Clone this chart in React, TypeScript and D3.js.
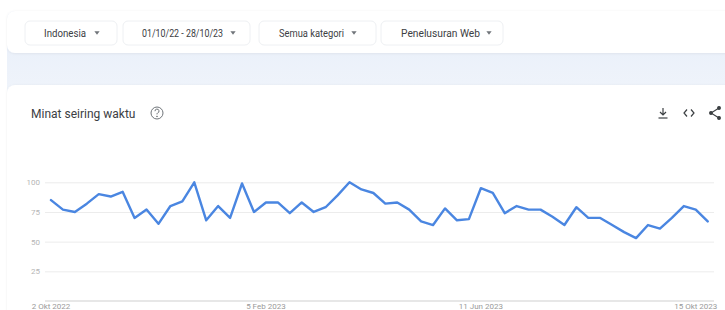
import React, { useEffect, useRef } from "react";
import * as d3 from "d3";

// weekly interest values, from 2 Okt 2022
const startDate = new Date(2022, 9, 2);
const values = [
  85, 77, 75, 82, 90, 88, 92, 70, 77, 65, 80, 84, 100, 68, 80, 70, 99, 75, 83,
  83, 74, 83, 75, 79, 89, 100, 94, 91, 82, 83, 77, 67, 64, 78, 68, 69, 95, 91,
  74, 80, 77, 77, 71, 64, 79, 70, 70, 64, 58, 53, 64, 61, 70, 80, 77, 67,
];
const yTicks = [25, 50, 75, 100];
const xTickDates = [
  new Date(2022, 9, 2),
  new Date(2023, 1, 5),
  new Date(2023, 5, 11),
  new Date(2023, 9, 15),
];
const xTickLabels = ["2 Okt 2022", "5 Feb 2023", "11 Jun 2023", "15 Okt 2023"];
const filters = ["Indonesia", "01/10/22 - 28/10/23", "Semua kategori", "Penelusuran Web"];
const title = "Minat seiring waktu";

const W = 725;
const H = 310;
const FONT = "Roboto, 'Open Sans', sans-serif";

const Axis = ({ scale, transform }) => {
  const node = useRef(null);
  useEffect(() => {
    const g = d3.select(node.current);
    g.call(
      d3
        .axisLeft(scale)
        .tickValues(yTicks)
        .tickSize(-669)
        .tickPadding(5)
    );
    g.select(".domain").remove();
    g.selectAll(".tick line").attr("stroke", "#ececec");
    g.selectAll(".tick text")
      .attr("fill", "#b5b5b5")
      .attr("font-size", 8)
      .attr("font-family", FONT);
  }, [scale]);
  return <g ref={node} transform={transform} />;
};

export default function App() {
  const dates = values.map((_, i) => d3.timeWeek.offset(startDate, i));
  const x = d3
    .scaleTime()
    .domain([dates[0], dates[dates.length - 1]])
    .range([51, 707.7]);
  const y = d3.scaleLinear().domain([0, 100]).range([301, 182.3]);

  const line = d3
    .line<number>()
    .x((_, i) => x(dates[i]))
    .y((d) => y(d));

  // filter chip geometry
  const chips = [
    { x: 25, w: 92, tx: 44, tw: 42, tri: 97 },
    { x: 123, w: 127, tx: 142, tw: 81, tri: 233 },
    { x: 259, w: 117, tx: 279, tw: 65, tri: 354 },
    { x: 381, w: 122, tx: 401, tw: 79, tri: 489 },
  ];

  return (
    <div style={{ position: "fixed", left: 0, top: 0 }}>
      <svg width={W} height={H} style={{ display: "block", fontFamily: FONT }}>
        <defs>
          <linearGradient id="bg" x1="0" y1="0" x2="0" y2="1">
            <stop offset="0" stopColor="#e7eef9" />
            <stop offset="1" stopColor="#f1f5fb" />
          </linearGradient>
          <filter id="sh" x="-5%" y="-20%" width="110%" height="140%">
            <feDropShadow dx="0" dy="0.5" stdDeviation="0.8" floodColor="#000" floodOpacity="0.07" />
          </filter>
        </defs>
        <rect width={W} height={H} fill="#ffffff" />
        <rect x={7} y={11} width={740} height={100} rx={8} fill="url(#bg)" />
        <rect x={7} y={11} width={740} height={42} rx={8} fill="#ffffff" filter="url(#sh)" />
        {filters.map((f, i) => (
          <g key={f}>
            <rect
              x={chips[i].x}
              y={21}
              width={chips[i].w}
              height={24}
              rx={5}
              fill="#ffffff"
              stroke="#eef0f3"
            />
            <text
              x={chips[i].tx}
              y={37}
              fontSize={10}
              fill="#3c4043"
              textLength={chips[i].tw}
              lengthAdjust="spacingAndGlyphs"
            >
              {f}
            </text>
            <path
              transform={`translate(${chips[i].tri},33)`}
              d="M-2.6,-1.8 L2.6,-1.8 L0,1.8 Z"
              fill="#70757a"
            />
          </g>
        ))}

        <rect x={7} y={85} width={740} height={260} rx={8} fill="#ffffff" filter="url(#sh)" />
        <text x={31} y={117.5} fontSize={12} fill="#3c4043">
          {title}
        </text>
        <g transform="translate(157,113)" fill="none" stroke="#70757a" strokeWidth={1}>
          <circle r={6} />
          <path d="M-2,-1.8 a2,2 0 1 1 2.6,1.8 c-0.6,0.3 -0.6,0.8 -0.6,1.4" />
          <circle cy={3.4} r={0.4} fill="#70757a" />
        </g>
        {/* download */}
        <g transform="translate(663,113)" fill="none" stroke="#3c4043" strokeWidth={1.2}>
          <path d="M0,-5 V2 M-3,-1 L0,2 L3,-1" />
          <path d="M-4.5,5 H4.5" />
        </g>
        {/* embed */}
        <g transform="translate(689,113)" fill="none" stroke="#3c4043" strokeWidth={1.2}>
          <path d="M-2,-3.5 L-5,0 L-2,3.5 M2,-3.5 L5,0 L2,3.5" />
        </g>
        {/* share */}
        <g transform="translate(715,113)" fill="#3c4043" stroke="#3c4043" strokeWidth={1.1}>
          <path d="M4,-5 L-4,0 L4,5" fill="none" />
          <circle cx={4} cy={-5} r={1.4} />
          <circle cx={-4} cy={0} r={1.4} />
          <circle cx={4} cy={5} r={1.4} />
        </g>

        <Axis scale={y} transform="translate(45,0)" />
        <line x1={45} x2={714} y1={301} y2={301} stroke="#cfcfcf" />
        {xTickDates.map((d, i) => (
          <text
            key={xTickLabels[i]}
            x={x(d)}
            y={309}
            textAnchor="middle"
            fontSize={8}
            fill="#9a9a9a"
          >
            {xTickLabels[i]}
          </text>
        ))}
        <path
          d={line(values) ?? ""}
          fill="none"
          stroke="#4a86e1"
          strokeWidth={2.4}
          strokeLinejoin="round"
          strokeLinecap="round"
        />
      </svg>
    </div>
  );
}
